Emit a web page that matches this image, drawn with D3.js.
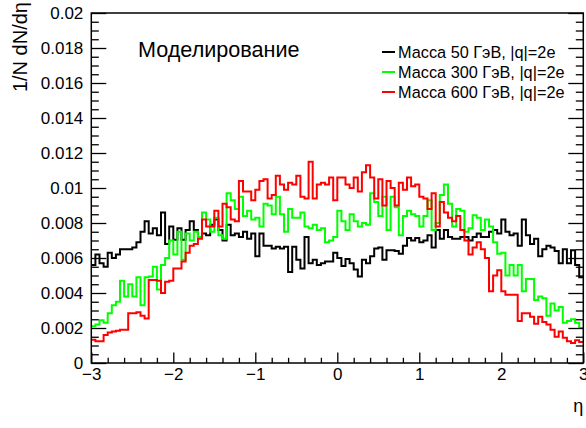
<!DOCTYPE html>
<html>
<head>
<meta charset="utf-8">
<script src="https://cdn.jsdelivr.net/npm/d3@7"></script>
<style>
  body { margin: 0; background: #fff; }
  svg text { font-family: "Liberation Sans", Arial, sans-serif; fill: #000; }
</style>
</head>
<body>
<svg id="chart" width="586" height="428"></svg>
<script>
// Binning of the pseudorapidity histograms
const etaRange = [-3, 3];
const binCount = 120;

// 1/N dN/deta per bin, from eta = -3 to 3 (bin width 0.05)
const mass50 = [
  0.00560, 0.00620, 0.00570, 0.00550, 0.00630, 0.00600, 0.00620, 0.00650, 0.00650, 0.00650,
  0.00660, 0.00690, 0.00750, 0.00810, 0.00740, 0.00770, 0.00730, 0.00860, 0.00680, 0.00780,
  0.00705, 0.00770, 0.00705, 0.00760, 0.00810, 0.00760, 0.00720, 0.00740, 0.00730, 0.00790,
  0.00820, 0.00760, 0.00700, 0.00790, 0.00730, 0.00740, 0.00720, 0.00750, 0.00710, 0.00740,
  0.00610, 0.00740, 0.00670, 0.00670, 0.00655, 0.00665, 0.00655, 0.00665, 0.00520, 0.00665,
  0.00590, 0.00540, 0.00720, 0.00570, 0.00590, 0.00560, 0.00570, 0.00580, 0.00580, 0.00630,
  0.00600, 0.00555, 0.00595, 0.00570, 0.00535, 0.00495, 0.00590, 0.00570, 0.00610, 0.00655,
  0.00660, 0.00590, 0.00645, 0.00645, 0.00640, 0.00625, 0.00670, 0.00715, 0.00700, 0.00715,
  0.00690, 0.00700, 0.00730, 0.00660, 0.00760, 0.00710, 0.00760, 0.00720, 0.00710, 0.00710,
  0.00720, 0.00720, 0.00700, 0.00720, 0.00740, 0.00720, 0.00720, 0.00750, 0.00760, 0.00740,
  0.00820, 0.00750, 0.00730, 0.00740, 0.00670, 0.00820, 0.00730, 0.00680, 0.00710, 0.00610,
  0.00650, 0.00670, 0.00660, 0.00640, 0.00570, 0.00650, 0.00570, 0.00645, 0.00560, 0.00490
];
const mass300 = [
  0.00210, 0.00220, 0.00245, 0.00230, 0.00285, 0.00330, 0.00350, 0.00470, 0.00380, 0.00450,
  0.00380, 0.00490, 0.00330, 0.00490, 0.00495, 0.00550, 0.00420, 0.00560, 0.00600, 0.00700,
  0.00620, 0.00750, 0.00590, 0.00740, 0.00700, 0.00750, 0.00720, 0.00860, 0.00820, 0.00750,
  0.00830, 0.00730, 0.00710, 0.00970, 0.00930, 0.00880, 0.00950, 0.00840, 0.00870, 0.00820,
  0.00830, 0.00780, 0.00910, 0.00900, 0.00850, 0.00950, 0.00850, 0.00750, 0.00880, 0.00830,
  0.00830, 0.00860, 0.00780, 0.00770, 0.00790, 0.00760, 0.00770, 0.00690, 0.00700, 0.00720,
  0.00870, 0.00810, 0.00760, 0.00850, 0.00810, 0.00780, 0.00800, 0.00790, 0.00970, 0.00920,
  0.00840, 0.00950, 0.00760, 0.00950, 0.00890, 0.00730, 0.00840, 0.00870, 0.00850, 0.00840,
  0.00780, 0.00840, 0.00930, 0.00760, 0.00800, 0.00960, 0.01020, 0.00910, 0.00780, 0.00880,
  0.00870, 0.00750, 0.00770, 0.00845, 0.00830, 0.00760, 0.00820, 0.00780, 0.00690, 0.00625,
  0.00630, 0.00500, 0.00560, 0.00500, 0.00560, 0.00410, 0.00480, 0.00480, 0.00360, 0.00380,
  0.00370, 0.00270, 0.00340, 0.00300, 0.00320, 0.00230, 0.00240, 0.00250, 0.00230, 0.00200
];
const mass600 = [
  0.00133, 0.00124, 0.00124, 0.00160, 0.00175, 0.00180, 0.00185, 0.00190, 0.00190, 0.00285,
  0.00285, 0.00290, 0.00270, 0.00255, 0.00475, 0.00475, 0.00470, 0.00400, 0.00465, 0.00470,
  0.00540, 0.00540, 0.00580, 0.00630, 0.00670, 0.00680, 0.00710, 0.00820, 0.00780, 0.00780,
  0.00870, 0.00780, 0.00910, 0.00890, 0.00820, 0.00810, 0.01040, 0.00980, 0.00980, 0.00930,
  0.00990, 0.01040, 0.01050, 0.00940, 0.00960, 0.01070, 0.01020, 0.00990, 0.01030, 0.01020,
  0.01070, 0.00950, 0.00940, 0.01150, 0.00940, 0.01020, 0.01030, 0.01020, 0.01060, 0.00930,
  0.01060, 0.01060, 0.01020, 0.01000, 0.01060, 0.00980, 0.01090, 0.01130, 0.01060, 0.00940,
  0.01050, 0.00900, 0.01040, 0.01000, 0.00900, 0.01030, 0.00990, 0.01060, 0.01010, 0.01020,
  0.00950, 0.00940, 0.00880, 0.00970, 0.00780, 0.00920, 0.00860, 0.00830, 0.00810, 0.00840,
  0.00760, 0.00700, 0.00620, 0.00660, 0.00690, 0.00650, 0.00600, 0.00410, 0.00500, 0.00530,
  0.00410, 0.00390, 0.00390, 0.00390, 0.00240, 0.00285, 0.00285, 0.00265, 0.00225, 0.00265,
  0.00235, 0.00220, 0.00190, 0.00150, 0.00180, 0.00145, 0.00125, 0.00115, 0.00130, 0.00120
];

const seriesNames = ["Масса 50 ГэВ, |q|=2e", "Масса 300 ГэВ, |q|=2e", "Масса 600 ГэВ, |q|=2e"];
const seriesColors = ["#000000", "#00ff00", "#ff0000"];
const seriesValues = [mass50, mass300, mass600];

const xTicks = [-3, -2, -1, 0, 1, 2, 3];
const yTicks = [0, 0.002, 0.004, 0.006, 0.008, 0.01, 0.012, 0.014, 0.016, 0.018, 0.02];
const yTickLabels = ["0", "0.002", "0.004", "0.006", "0.008", "0.01", "0.012", "0.014", "0.016", "0.018", "0.02"];

// Frame geometry
const frame = { left: 91.3, right: 583.3, top: 13, bottom: 363 };

const svg = d3.select("#chart");
const x = d3.scaleLinear().domain(etaRange).range([frame.left, frame.right]);
const y = d3.scaleLinear().domain([0, 0.02]).range([frame.bottom, frame.top]);

const binWidth = (etaRange[1] - etaRange[0]) / binCount;
const edges = d3.range(binCount + 1).map(i => etaRange[0] + i * binWidth);

// Step outlines of the histograms
const step = d3.line().x(d => x(d[0])).y(d => y(d[1])).curve(d3.curveStepAfter);
seriesValues.forEach((vals, s) => {
  const pts = vals.map((v, i) => [edges[i], v]);
  pts.push([edges[binCount], vals[binCount - 1]]);
  svg.append("path")
    .attr("d", step(pts))
    .attr("fill", "none")
    .attr("stroke", seriesColors[s])
    .attr("stroke-width", 2)
    .attr("stroke-linejoin", "miter");
});

// Minor tick positions
const xMinor = d3.range(-3, 3.0001, 0.2).map(v => +v.toFixed(2)).filter(v => !xTicks.includes(v));
const yMinor = d3.range(0, 0.02001, 0.0005).map(v => +v.toFixed(4)).filter(v => !yTicks.some(t => Math.abs(t - v) < 1e-9));

const fontSize = 17;
function styleAxis(g) {
  g.select(".domain").remove();
  g.selectAll("line").attr("stroke", "#000").attr("stroke-width", 1.3);
  g.selectAll("text").attr("font-size", fontSize).attr("font-family", "Liberation Sans, Arial, sans-serif").attr("fill", "#000");
}

// Bottom axis
svg.append("g").attr("transform", `translate(0,${frame.bottom})`)
  .call(d3.axisBottom(x).tickValues(xTicks).tickFormat(d3.format("d")).tickSize(-10.5).tickPadding(5))
  .call(styleAxis);
svg.append("g").attr("transform", `translate(0,${frame.bottom})`)
  .call(d3.axisBottom(x).tickValues(xMinor).tickFormat("").tickSize(-5.2))
  .call(styleAxis);

// Left axis
svg.append("g").attr("transform", `translate(${frame.left},0)`)
  .call(d3.axisLeft(y).tickValues(yTicks).tickFormat((d, i) => yTickLabels[i]).tickSize(-15).tickPadding(8))
  .call(styleAxis);
svg.append("g").attr("transform", `translate(${frame.left},0)`)
  .call(d3.axisLeft(y).tickValues(yMinor).tickFormat("").tickSize(-7.5))
  .call(styleAxis);

// Right axis (ticks only)
svg.append("g").attr("transform", `translate(${frame.right},0)`)
  .call(d3.axisRight(y).tickValues(yTicks).tickFormat("").tickSize(-15))
  .call(styleAxis);
svg.append("g").attr("transform", `translate(${frame.right},0)`)
  .call(d3.axisRight(y).tickValues(yMinor).tickFormat("").tickSize(-7.5))
  .call(styleAxis);

// Frame
svg.append("rect")
  .attr("x", frame.left).attr("y", frame.top)
  .attr("width", frame.right - frame.left).attr("height", frame.bottom - frame.top)
  .attr("fill", "none").attr("stroke", "#000").attr("stroke-width", 1.5);

// Axis titles
svg.append("text")
  .attr("x", frame.right).attr("y", 412)
  .attr("text-anchor", "end")
  .attr("font-size", 18)
  .text("η");

svg.append("text")
  .attr("transform", "translate(27,2) rotate(-90)")
  .attr("text-anchor", "end")
  .attr("font-size", 20)
  .text("1/N dN/dη");

// Label
svg.append("text")
  .attr("x", 138).attr("y", 57)
  .attr("font-size", 21.6)
  .text("Моделирование");

// Legend
const legendRows = [52, 72, 92];
seriesNames.forEach((name, i) => {
  svg.append("line")
    .attr("x1", 382).attr("x2", 395)
    .attr("y1", legendRows[i]).attr("y2", legendRows[i])
    .attr("stroke", seriesColors[i]).attr("stroke-width", 2);
  svg.append("text")
    .attr("x", 398).attr("y", legendRows[i])
    .attr("dy", "0.35em")
    .attr("font-size", 16.3)
    .text(name);
});
</script>
</body>
</html>
